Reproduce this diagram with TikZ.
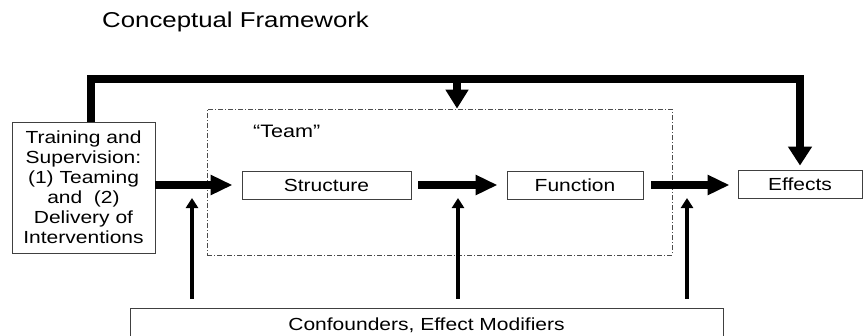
\documentclass[tikz,border=0pt]{standalone}
\usepackage{fontspec}
\setmainfont{Liberation Sans}[FakeStretch=1.2]
\usetikzlibrary{arrows.meta}

\begin{document}
\begin{tikzpicture}[x=1pt,y=-1pt,
  box/.style={draw=black!75, line width=0.9pt, inner sep=0pt, align=center,
    font=\fontsize{17.5}{20}\selectfont},
  flow/.style={line width=7.5pt, -{Triangle[length=22pt,width=19pt]}},
  feed/.style={line width=8pt, line join=miter, -{Triangle[length=19pt,width=23pt]}},
  modifier/.style={line width=4pt, -{Triangle[length=10pt,width=12pt]}}]
\useasboundingbox (0,0) rectangle (864,335);

% title
\node[anchor=base west, inner sep=0pt, font=\fontsize{21.5}{24}\selectfont] (title) at (102,27) {Conceptual Framework};

% the "team" region
\node[draw=black!70, line width=0.8pt, dash pattern=on 5pt off 2pt on 1pt off 2pt,
  inner sep=0pt, minimum width=465pt, minimum height=146pt] (team) at (439.5,182) {};
\node[anchor=base west, inner sep=0pt, font=\fontsize{18}{20}\selectfont] (teamlabel) at (253,137) {“Team”};

% boxes
\node[box, minimum width=143pt, minimum height=131pt] (train) at (83.5,187.5)
  {Training and\\Supervision:\\(1) Teaming\\and~\ (2)\\Delivery of\\Interventions};
\node[box, minimum width=169pt, minimum height=28pt] (struct) at (326.5,185) {Structure};
\node[box, minimum width=136pt, minimum height=28pt] (func) at (575,185) {Function};
\node[box, minimum width=124pt, minimum height=28pt] (eff) at (800,184) {Effects};
\node[box, minimum width=593pt, minimum height=40pt, text height=8pt, text depth=4pt]
  (conf) at (426.5,328) {Confounders, Effect Modifiers};

% main flow
\draw[flow, shorten >=9pt] (train.east |- struct.west) -- (struct.west);
\draw[flow, shorten <=7pt, shorten >=9pt] (struct.east) -- (func.west);
\draw[flow, shorten <=8pt, shorten >=8pt] (func.east) -- (eff.west |- func.east);

% feedback from training and supervision
\coordinate (topbar) at (457,78.5);
\draw[feed, shorten >=4pt] ([xshift=7.5pt]train.north) |- (topbar) -| (eff.north);
\draw[feed, -{Triangle[length=19pt,width=22pt]}] (topbar) -- (topbar |- team.north);

% confounders and effect modifiers
\coordinate (m1) at (192,198);
\coordinate (m2) at (458,198);
\coordinate (m3) at (687,198);
\draw[modifier, shorten <=9pt] (conf.north -| m1) -- (m1);
\draw[modifier, shorten <=9pt] (conf.north -| m2) -- (m2);
\draw[modifier, shorten <=9pt] (conf.north -| m3) -- (m3);
\end{tikzpicture}
\end{document}
